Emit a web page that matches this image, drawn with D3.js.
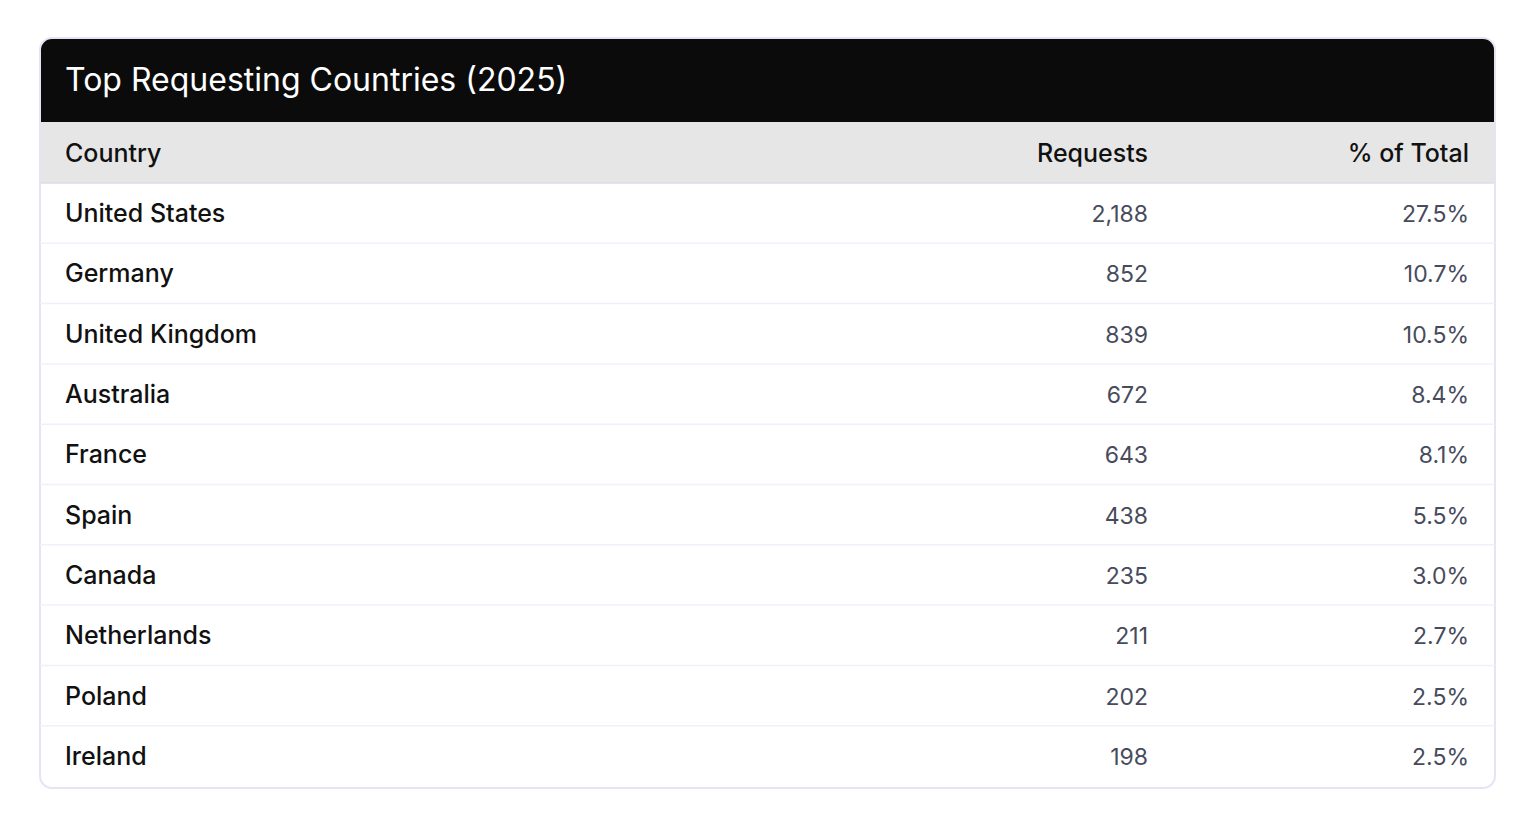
<!DOCTYPE html>
<html>
<head>
<meta charset="utf-8">
<script src="https://cdn.jsdelivr.net/npm/d3@7"></script>
<style>
  body { margin: 0; background: #fff; font-family: Inter, "Noto Sans", sans-serif; }
</style>
</head>
<body>
<div id="chart"></div>
<script>
const title = "Top Requesting Countries (2025)";
const columns = ["Country", "Requests", "% of Total"];
const countries = ["United States", "Germany", "United Kingdom", "Australia", "France",
  "Spain", "Canada", "Netherlands", "Poland", "Ireland"];
const requests = [2188, 852, 839, 672, 643, 438, 235, 211, 202, 198];
const shares = [27.5, 10.7, 10.5, 8.4, 8.1, 5.5, 3.0, 2.7, 2.5, 2.5];

(function () {
  const W = 1536, H = 825;
  const cardL = 40, cardR = 1495, cardT = 38;
  const titleH = 84, headH = 61, rowH = 60.3;

  const svg = d3.select("#chart").append("svg")
    .attr("width", W).attr("height", H);

  const y = d3.scaleBand()
    .domain(d3.range(countries.length))
    .range([cardT + titleH + headH, cardT + titleH + headH + rowH * countries.length]);
  const cardB = y.range()[1] + 2;

  // card
  svg.append("defs").append("clipPath").attr("id", "card")
    .append("rect").attr("x", cardL).attr("y", cardT)
    .attr("width", cardR - cardL).attr("height", cardB - cardT).attr("rx", 12);

  const g = svg.append("g").attr("clip-path", "url(#card)");
  g.append("rect").attr("x", cardL).attr("y", cardT)
    .attr("width", cardR - cardL).attr("height", cardB - cardT).attr("fill", "#fff");
  g.append("rect").attr("x", cardL).attr("y", cardT)
    .attr("width", cardR - cardL).attr("height", titleH).attr("fill", "#0b0b0b");
  g.append("rect").attr("x", cardL).attr("y", cardT + titleH)
    .attr("width", cardR - cardL).attr("height", headH).attr("fill", "#e6e6e6");
  g.append("line").attr("x1", cardL).attr("x2", cardR)
    .attr("y1", cardT + titleH + headH).attr("y2", cardT + titleH + headH)
    .attr("stroke", "#dcdcec").attr("stroke-width", 1.5);

  svg.append("rect").attr("x", cardL).attr("y", cardT)
    .attr("width", cardR - cardL).attr("height", cardB - cardT).attr("rx", 12)
    .attr("fill", "none").attr("stroke", "#e4e4f6").attr("stroke-width", 2);

  svg.append("text").attr("x", 65).attr("y", cardT + titleH / 2 + 11)
    .attr("fill", "#fff").attr("font-size", 32).text(title);

  const colX = [65, 1148, 1469];
  const anchors = ["start", "end", "end"];
  svg.append("g").selectAll("text").data(columns).join("text")
    .attr("x", (d, i) => colX[i]).attr("y", cardT + titleH + headH / 2 + 9)
    .attr("text-anchor", (d, i) => anchors[i])
    .attr("font-size", 25).attr("font-weight", 500).attr("fill", "#111")
    .text(d => d);

  const rows = svg.append("g").selectAll("g").data(countries).join("g")
    .attr("transform", (d, i) => `translate(0,${y(i)})`);

  rows.filter((d, i) => i < countries.length - 1).append("line")
    .attr("x1", cardL).attr("x2", cardR)
    .attr("y1", rowH).attr("y2", rowH)
    .attr("stroke", "#f0f0fa").attr("stroke-width", 1.5);

  rows.append("text").attr("x", colX[0]).attr("y", rowH / 2 + 9)
    .attr("font-size", 25).attr("font-weight", 500).attr("fill", "#111")
    .text(d => d);
  rows.append("text").attr("x", colX[1]).attr("y", rowH / 2 + 9)
    .attr("text-anchor", "end").attr("font-size", 23).attr("fill", "#474b5c")
    .text((d, i) => d3.format(",")(requests[i]));
  rows.append("text").attr("x", colX[2]).attr("y", rowH / 2 + 9)
    .attr("text-anchor", "end").attr("font-size", 23).attr("fill", "#474b5c")
    .text((d, i) => shares[i].toFixed(1) + "%");
})();
</script>
</body>
</html>
